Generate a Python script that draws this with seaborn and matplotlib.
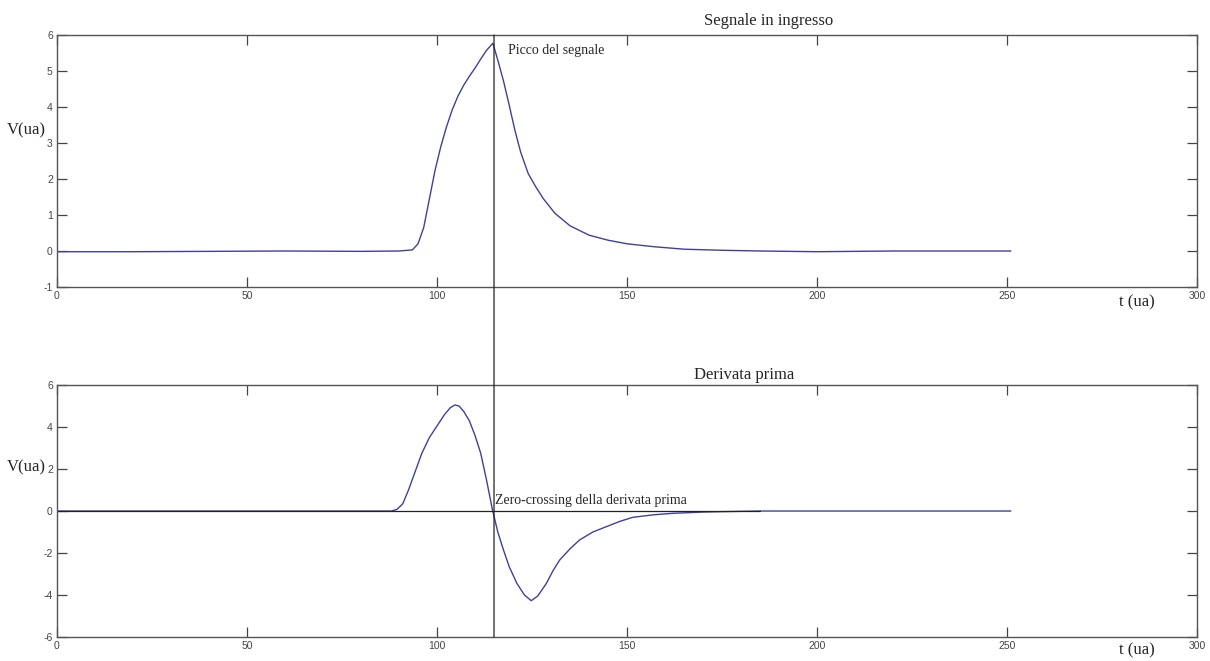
import numpy as np
import pandas as pd
import matplotlib
matplotlib.use("Agg")
import matplotlib.pyplot as plt
import seaborn as sns
from matplotlib.patches import ConnectionPatch

# Segnale in ingresso
t_segnale = [0, 20, 40, 60, 80, 90, 93.5, 95, 96.5, 98, 99.5, 101, 102.5, 104,
             105.5, 107, 108.5, 110, 111.5, 113, 114.7, 116, 117.5, 119, 120.5,
             122, 124, 126, 128, 131, 135, 140, 145, 150, 157, 165, 175, 185,
             200, 220, 251]
v_segnale = [-0.02, -0.02, -0.01, 0.0, -0.01, 0.0, 0.03, 0.2, 0.65, 1.45, 2.25,
             2.9, 3.45, 3.92, 4.3, 4.6, 4.85, 5.08, 5.33, 5.57, 5.77, 5.3, 4.72,
             4.05, 3.35, 2.75, 2.15, 1.78, 1.45, 1.05, 0.7, 0.44, 0.3, 0.2, 0.12,
             0.05, 0.02, 0.0, -0.02, 0.0, 0.0]

# Derivata prima
t_derivata = [0, 40, 80, 88, 89.5, 91, 92.5, 94, 96, 98, 100, 102, 103.5, 104.7,
              105.8, 107, 108.5, 110, 111.5, 113, 114.6, 116, 117.5, 119, 121,
              123, 124.8, 126.5, 128.8, 130.5, 132.3, 135, 137.5, 141, 144.5, 148,
              151.5, 157, 162, 170, 175, 185, 251]
v_derivata = [0, 0, 0, 0, 0.08, 0.35, 1.0, 1.75, 2.75, 3.5, 4.05, 4.6, 4.92, 5.05,
              5.0, 4.75, 4.3, 3.6, 2.75, 1.5, 0.05, -1.0, -1.86, -2.65, -3.44,
              -4.0, -4.27, -4.05, -3.44, -2.85, -2.33, -1.8, -1.38, -1.0, -0.75,
              -0.5, -0.3, -0.18, -0.11, -0.05, -0.03, 0.0, 0.0]

t_picco = 115
t_zero = [0, 185]
v_zero = [0, 0]

x_ticks = [0, 50, 100, 150, 200, 250, 300]
y_ticks_top = [-1, 0, 1, 2, 3, 4, 5, 6]
y_ticks_bot = [-6, -4, -2, 0, 2, 4, 6]

sns.set_style("ticks")
plt.rcParams['font.family'] = ['Liberation Serif', 'DejaVu Serif']
plt.rcParams['axes.unicode_minus'] = False

df_s = pd.DataFrame({"t": t_segnale, "v": v_segnale})
df_d = pd.DataFrame({"t": t_derivata, "v": v_derivata})

fig = plt.figure(figsize=(12.1, 6.61), dpi=100)
ax1 = fig.add_axes([0.0471, 0.5658, 0.9422, 0.3813])
ax2 = fig.add_axes([0.0471, 0.0363, 0.9422, 0.3812])

col = "#40409a"
sns.lineplot(data=df_s, x="t", y="v", ax=ax1, color=col, linewidth=1)
sns.lineplot(data=df_d, x="t", y="v", ax=ax2, color=col, linewidth=1)
ax2.plot(t_zero, v_zero, color="#222222", linewidth=0.9)

for ax, yt in [(ax1, y_ticks_top), (ax2, y_ticks_bot)]:
    ax.set_xlim(0, 300)
    ax.set_ylim(yt[0], yt[-1])
    ax.set_xticks(x_ticks)
    ax.set_yticks(yt)
    ax.set_xlabel("")
    ax.set_ylabel("")
    ax.tick_params(direction="in", length=7, width=0.9, top=True, right=True,
                   colors="#444444", labelsize=7.5, pad=3)
    for lab in ax.get_xticklabels() + ax.get_yticklabels():
        lab.set_family("Liberation Sans")
    for sp in ax.spines.values():
        sp.set_visible(True)
        sp.set_color("#555555")
        sp.set_linewidth(1)

ax1.text(0.624, 1.025, "Segnale in ingresso", transform=ax1.transAxes,
         ha="center", va="bottom", fontsize=12)
ax2.text(0.603, 1.01, "Derivata prima", transform=ax2.transAxes,
         ha="center", va="bottom", fontsize=12)
ax1.text(0.947, -0.06, "t (ua)", transform=ax1.transAxes, ha="center", va="center", fontsize=12)
ax2.text(0.947, -0.055, "t (ua)", transform=ax2.transAxes, ha="center", va="center", fontsize=12)
ax1.text(-0.027, 0.62, "V(ua)", transform=ax1.transAxes, ha="center", va="center", fontsize=12)
ax2.text(-0.027, 0.675, "V(ua)", transform=ax2.transAxes, ha="center", va="center", fontsize=12)

ax1.text(118.6, 5.58, "Picco del segnale", fontsize=10, va="center")
ax2.text(115.3, 0.2, "Zero-crossing della derivata prima", fontsize=10, va="bottom")

linea = ConnectionPatch(xyA=(t_picco, 6), coordsA=ax1.transData,
                        xyB=(t_picco, -6), coordsB=ax2.transData,
                        color="#222222", linewidth=0.9)
fig.add_artist(linea)

fig.savefig("out.png", dpi=100)
